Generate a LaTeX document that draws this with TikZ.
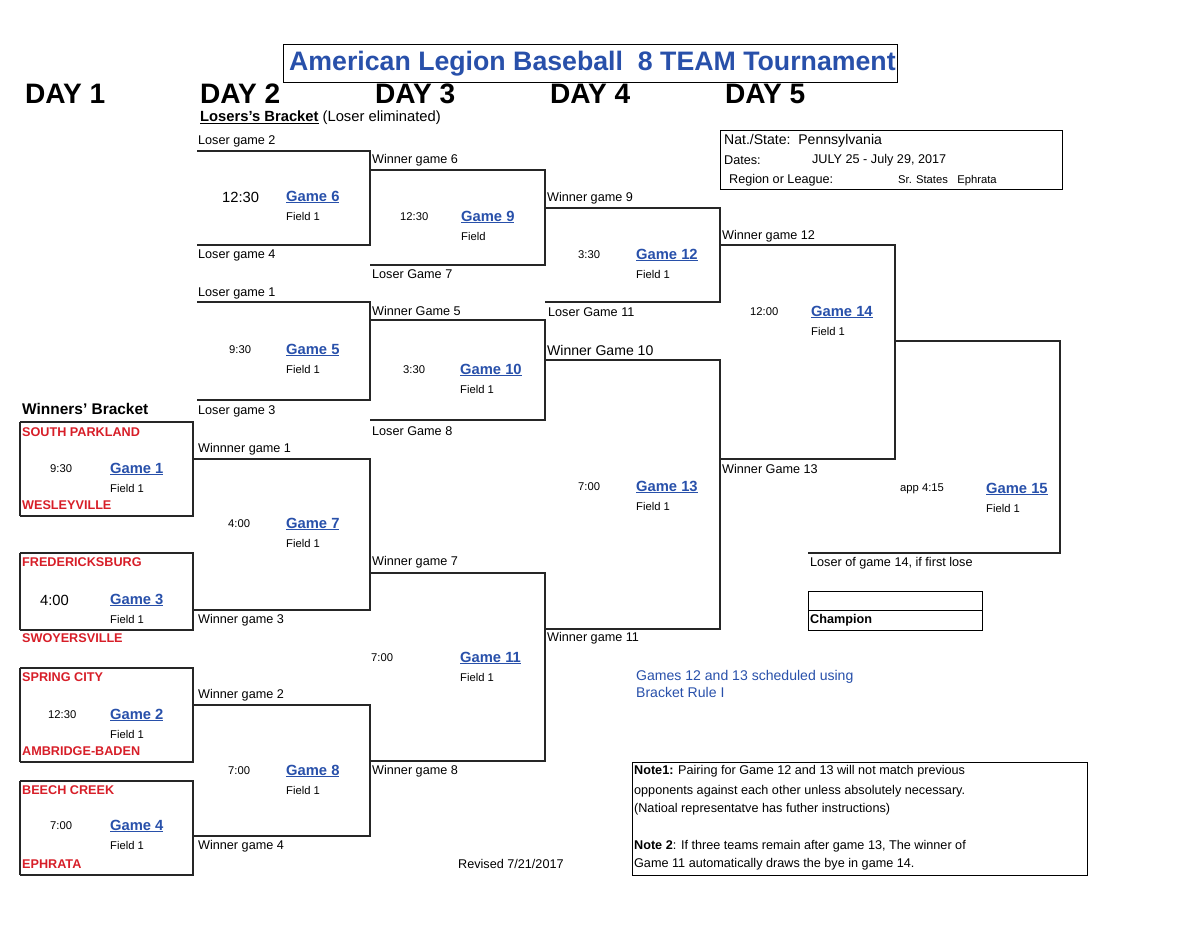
\documentclass[tikz,border=0pt]{standalone}
\usepackage{fontspec}
\setmainfont{Liberation Sans}
\usepackage{tikz}
\definecolor{gameblue}{RGB}{40,80,170}
\definecolor{teamred}{RGB}{215,30,40}
\tikzset{
  brk/.style={line width=2.2pt, black!85},
  lbl/.style={anchor=west, inner sep=0pt, font=\fontsize{18}{20}\selectfont},
  small/.style={anchor=west, inner sep=0pt, font=\fontsize{16}{18}\selectfont},
  game/.style={anchor=west, inner sep=0pt, text=gameblue, font=\fontsize{21}{23}\selectfont\bfseries},
  team/.style={anchor=west, inner sep=0pt, text=teamred, font=\fontsize{18}{20}\selectfont\bfseries},
  day/.style={anchor=west, inner sep=0pt, font=\fontsize{40}{42}\selectfont\bfseries},
}
% bracket: top line, closing vertical, bottom line
\newcommand{\bracketline}[5]{%
  \coordinate (#1t) at (#2,#4);
  \coordinate (#1b) at (#2,#5);
  \coordinate (#1tr) at (#3,#4);
  \coordinate (#1br) at (#3,#5);
  \draw[brk] (#1t) -- (#1tr) -- (#1br) -- (#1b);
}
\newcommand{\gamelabel}[8]{%
  \node[lbl, font=\fontsize{#7}{20}\selectfont] (t#1) at (#2,#4) {#3};
  \node[game] (g#1) at (#5,#4) {\underline{Game #1}};
  \node[small] (f#1) at (#6,#4+19) {#8};
}
\begin{document}
\begin{tikzpicture}[x=0.05cm, y=-0.05cm]
  \useasboundingbox (0,0) rectangle (1200,927);

  % heading
  \draw[line width=1.4pt] (283,44) rectangle (897,82);
  \node[anchor=west, inner sep=0pt, text=gameblue, font=\fontsize{38}{40}\selectfont\bfseries] (title) at (289,64) {American Legion Baseball \ 8 TEAM Tournament};
  \node[day] (d1) at (25,94) {DAY 1};
  \node[day] (d2) at (200,94) {DAY 2};
  \node[day] (d3) at (375,94) {DAY 3};
  \node[day] (d4) at (550,94) {DAY 4};
  \node[day] (d5) at (725,94) {DAY 5};
  \node[anchor=west, inner sep=0pt, font=\fontsize{21}{23}\selectfont] (losers) at (200,118) {\textbf{\underline{Losers's Bracket}} (Loser eliminated)};
  \node[anchor=west, inner sep=0pt, font=\fontsize{22}{24}\selectfont\bfseries] (winners) at (22,409) {Winners' Bracket};

  % info box
  \draw[line width=1.2pt] (720,130) rectangle (1062,189);
  \node[lbl, font=\fontsize{20}{22}\selectfont] (nat) at (724,141) {Nat./State:\ \ Pennsylvania};
  \node[lbl] (dates) at (724,160) {Dates:};
  \node[lbl] (datev) at (812,160) {JULY 25 - July 29, 2017};
  \node[lbl] (reg) at (729,180) {Region or League:};
  \node[small] (regv) at (898,181) {Sr. States\ \ \ Ephrata};

  % losers bracket
  \bracketline{b6}{197}{370}{151}{245}
  \bracketline{b9}{370}{545}{170}{265}
  \bracketline{b12}{545}{720}{208}{302}
  \bracketline{b14}{720}{895}{245}{459}
  \bracketline{b5}{197}{370}{302}{400}
  \bracketline{b10}{370}{545}{320}{420}
  \bracketline{b13}{545}{720}{360}{629}
  \coordinate (b15t) at (895,341);
  \coordinate (b15tr) at (1060,341);
  \coordinate (b15br) at (1060,553);
  \coordinate (b15b) at (808,553);
  \draw[brk] (b15t) -- (b15tr) -- (b15br) -- (b15b);

  % winners bracket
  \bracketline{b1}{20}{193}{422}{516}
  \bracketline{b3}{20}{193}{553}{630}
  \bracketline{b2}{20}{193}{668}{762}
  \bracketline{b4}{20}{193}{781}{875}
  \draw[brk] (b1t) -- (b1b) (b3t) -- (b3b) (b2t) -- (b2b) (b4t) -- (b4b);
  \bracketline{b7}{193}{370}{459}{610}
  \bracketline{b8}{193}{370}{705}{836}
  \bracketline{b11}{370}{545}{573}{761}

  % feed labels
  \node[lbl] (l2) at (198,141) {Loser game 2};
  \node[lbl] (l4) at (198,255) {Loser game 4};
  \node[lbl] (w6) at (372,160) {Winner game 6};
  \node[lbl] (l7) at (372,274) {Loser Game 7};
  \node[lbl] (w9) at (547,198) {Winner game 9};
  \node[lbl] (l11) at (548,312) {Loser Game 11};
  \node[lbl] (w12) at (722,236) {Winner game 12};
  \node[lbl] (w13) at (722,469) {Winner Game 13};
  \node[lbl] (l1) at (198,293) {Loser game 1};
  \node[lbl] (l3) at (198,411) {Loser game 3};
  \node[lbl] (w5) at (372,311) {Winner Game 5};
  \node[lbl] (l8) at (372,431) {Loser Game 8};
  \node[lbl, font=\fontsize{20}{22}\selectfont] (w10) at (547,350) {Winner Game 10};
  \node[lbl] (w11) at (547,638) {Winner game 11};
  \node[lbl] (ww1) at (198,449) {Winnner game 1};
  \node[lbl] (ww3) at (198,620) {Winner game 3};
  \node[lbl] (ww2) at (198,695) {Winner game 2};
  \node[lbl] (ww4) at (198,846) {Winner game 4};
  \node[lbl] (w7) at (372,562) {Winner game 7};
  \node[lbl] (w8) at (372,771) {Winner game 8};
  \node[lbl] (lose14) at (810,563) {Loser of game 14, if first lose};

  % teams
  \node[team] (sp) at (22,432) {SOUTH PARKLAND};
  \node[team] (wv) at (22,505) {WESLEYVILLE};
  \node[team] (fr) at (22,562) {FREDERICKSBURG};
  \node[team] (sw) at (22,638) {SWOYERSVILLE};
  \node[team] (sc) at (22,677) {SPRING CITY};
  \node[team] (ab) at (22,751) {AMBRIDGE-BADEN};
  \node[team] (bc) at (22,790) {BEECH CREEK};
  \node[team] (ep) at (22,864) {EPHRATA};

  % games: number, time x, time, y, game x, field x, time size, field text
  \gamelabel{1}{50}{9:30}{469}{110}{110}{16}{Field 1}
  \gamelabel{3}{40}{4:00}{600}{110}{110}{21}{Field 1}
  \gamelabel{2}{48}{12:30}{715}{110}{110}{16}{Field 1}
  \gamelabel{4}{50}{7:00}{826}{110}{110}{16}{Field 1}
  \gamelabel{6}{222}{12:30}{197}{286}{286}{21}{Field 1}
  \gamelabel{5}{229}{9:30}{350}{286}{286}{16}{Field 1}
  \gamelabel{7}{228}{4:00}{524}{286}{286}{16}{Field 1}
  \gamelabel{8}{228}{7:00}{771}{286}{286}{16}{Field 1}
  \gamelabel{9}{400}{12:30}{217}{461}{461}{16}{Field}
  \gamelabel{10}{403}{3:30}{370}{460}{460}{16}{Field 1}
  \gamelabel{11}{371}{7:00}{658}{460}{460}{16}{Field 1}
  \gamelabel{12}{578}{3:30}{255}{636}{636}{16}{Field 1}
  \gamelabel{13}{578}{7:00}{487}{636}{636}{16}{Field 1}
  \gamelabel{14}{750}{12:00}{312}{811}{811}{16}{Field 1}
  \gamelabel{15}{900}{app 4:15}{489}{986}{986}{16}{Field 1}

  % champion
  \draw[line width=1.2pt] (808,591) rectangle (982,630);
  \draw[line width=1.2pt] (808,610) -- (982,610);
  \node[lbl, font=\fontsize{18}{20}\selectfont\bfseries] (champ) at (810,620) {Champion};

  % notes
  \node[anchor=north west, inner sep=0pt, text=gameblue, align=left, font=\fontsize{20}{24}\selectfont] (rule) at (636,670) {Games 12 and 13 scheduled using\\Bracket Rule I};
  \draw[line width=1.2pt] (632,762) rectangle (1087,875);
  \node[lbl] (n1) at (634,771) {\textbf{Note1:} Pairing for Game 12 and 13 will not match previous};
  \node[lbl] (n2) at (634,791) {opponents against each other unless absolutely necessary.};
  \node[lbl] (n3) at (634,809) {(Natioal representatve has futher instructions)};
  \node[lbl] (n4) at (634,846) {\textbf{Note 2}: If three teams remain after game 13, The winner of};
  \node[lbl] (n5) at (634,864) {Game 11 automatically draws the bye in game 14.};
  \node[lbl] (rev) at (458,864) {Revised 7/21/2017};
\end{tikzpicture}
\end{document}
